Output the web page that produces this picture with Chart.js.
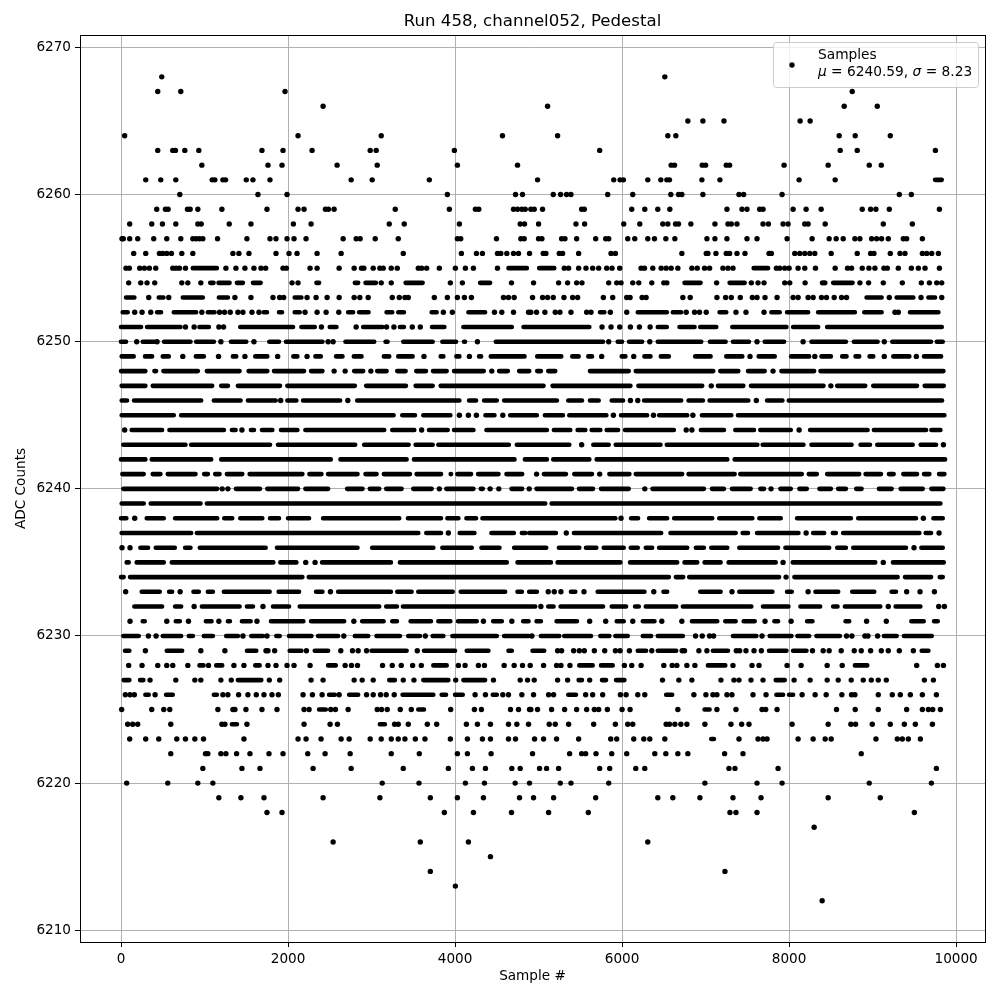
<!DOCTYPE html>
<html><head><meta charset="utf-8">
<style>html,body{margin:0;padding:0;background:#fff}canvas{display:block}</style>
<script src="https://cdn.jsdelivr.net/npm/chart.js@4"></script>
</head><body><canvas id="c" width="1000" height="1000"></canvas>
<script>
const chartTitle = "Run 458, channel052, Pedestal";
const xTitle = "Sample #";
const yTitle = "ADC Counts";
const xTicks = [0,2000,4000,6000,8000,10000];
const yTicks = [6210,6220,6230,6240,6250,6260,6270];
// each row: a number is one sample; [a,b] is a visually unbroken run of samples
const level6268=[488,6512];
const level6267=[440,716,1964,8756];
const level6266=[2420,5108,8660,9056];
const level6265=[6788,6968,7220,8132,8252];
const level6264=[44,2120,3116,4568,5228,6548,6644,8600,8792,9212];
const level6263=[440,620,652,764,932,1688,1940,2288,2984,3056,3992,5732,8612,8816,9752];
const level6262=[968,1760,1928,2588,3068,4028,4748,6588,6628,6960,7000,7248,7288,7940,8468,8960,9104];
const level6261=[296,476,656,1092,1124,1220,1252,1500,1580,1784,2756,3008,3692,4988,5900,5976,6016,6308,6464,6536,6568,6956,7172,8120,8552,[9748,9828]];
const level6260=[704,1640,1988,3908,4724,4808,5176,5264,5336,5388,5828,6128,6584,6676,6716,6968,7400,7456,7916,9320,9464];
const level6259=[428,532,564,796,828,920,1208,1748,2120,2192,2448,2484,2552,3284,3932,4244,4284,4700,4748,4800,4840,4908,4948,5048,5516,5548,6116,6272,6428,6572,7256,7436,7496,7648,7688,8048,8204,8384,8876,8976,9040,9200,9800];
const level6258=[104,368,496,656,920,960,1296,1556,2064,2276,3212,3392,4052,4780,4832,5000,5448,5552,6020,6212,6488,6548,6640,6676,6824,7112,7268,7308,7376,7688,7752,7928,7988,8188,8228,8432,9128,9476];
const level6257=[12,28,104,200,392,548,716,860,900,940,980,1156,1508,1784,1856,1988,2072,2216,2660,2816,2864,3044,3320,4028,4068,4496,4788,4828,5000,5040,5276,5316,5456,5684,5804,5840,6068,6152,6308,6388,6524,6632,7016,7112,7256,7496,7616,7976,8276,8480,8564,8648,8788,8848,8988,9048,9108,9188,9368,9408,9596];
const level6256=[152,296,460,500,548,604,728,860,1340,1412,1532,1856,2012,2108,2348,2636,3380,4076,4256,4328,4508,4548,4620,4700,4760,4892,5056,5088,5248,5288,5480,5868,5920,6716,7008,7028,7124,7248,7288,7376,7472,7760,7788,8068,8128,8188,8248,8308,8504,8816,8976,9016,9212,9328,9388,9596,9648,9708,9788];
const level6255=[60,100,224,280,340,416,620,660,700,772,[860,1148],1256,1376,1484,1592,1676,1732,1940,1980,2264,2348,2612,2792,2880,2908,3020,3100,3140,3236,3308,3560,3600,3660,3812,4004,4124,4220,4508,[4640,4860],[5008,5188],5308,5360,5480,5568,5648,5720,5816,5880,5972,6228,6268,6368,6468,6528,6588,6668,6836,6900,6988,7048,7208,7268,7328,[7576,7748],7848,7888,7948,8000,8108,8188,8316,8552,8700,8748,8876,8956,9028,9136,9176,9308,9464,9548,9628,9800];
const level6254=[92,236,312,404,728,800,956,[1068,1108],[1168,1300],[1388,1460],[1580,1672],2048,2120,[2340,2372],[2800,2840],[2928,3052],3116,3236,[3408,3612],3944,4088,[4300,4420],4676,4940,5240,5348,5456,5520,5840,5936,5988,6128,6200,6356,6500,6536,[6748,6940],7132,[7288,7468],7548,7628,7700,7948,8008,8192,8400,8428,[8528,8760],8848,8952,9128,9356,9584,9680,9768,9828];
const level6253=[[60,160],332,[452,508],572,[740,980],[1172,1280],1364,1556,1820,1900,1948,[2080,2160],2228,2336,2468,2612,2792,2860,2960,3248,3332,3400,3440,3752,3908,4028,4112,4196,4580,4640,4708,4928,5048,5108,5176,5304,5408,5468,5776,5888,6056,6096,6240,6288,6728,6816,7136,7240,7308,7416,7560,7616,7712,7856,8048,8108,8228,8288,8388,8448,8540,8628,8688,[8928,9108],9200,[9288,9488],9580,[9668,9748],9828];
const level6252=[[20,80],164,252,356,[432,480],[632,900],968,[1040,1120],1180,1240,1308,1400,1460,1568,1652,[1708,1748],[1892,1928],[2080,2140],2204,2348,2456,2608,[2720,2780],[2852,2964],[3180,3248],[3320,3388],[3720,3780],3860,3968,[4160,4360],4472,4560,4700,4880,4908,4976,5076,5200,5256,5388,5576,5628,[5736,5788],5860,6056,[6188,6536],[6608,6708],6768,6868,6928,7008,[7168,7248],7364,7484,7700,[7788,7888],[7976,8228],[8348,8788],[8900,9108],9268,9308,[9448,9788]];
const level6251=[[0,240],[312,712],772,876,[940,1052],1172,1228,[1428,2060],[2160,2320],2400,[2500,2580],2816,[2900,3132],3180,3268,[3340,3388],3488,3584,[3724,3872],[4100,4680],[4820,5608],5760,5868,5972,6100,6208,6336,[6428,6536],[6688,6868],[6936,7128],[7320,7968],[8048,8348],[8456,9828]];
const level6250=[[0,60],188,[260,400],432,[516,832],[900,1112],1196,[1316,1500],1592,[1776,1892],[1976,2412],2480,2540,[2688,3032],[3168,3192],[3380,3732],[3848,4012],[4108,4120],4268,[4488,5772],5840,[5948,6000],[6084,6240],6332,[6428,6948],[7052,7240],[7328,7520],7616,[7708,7940],8168,[8268,8680],[8776,9060],9140,[9236,9700],[9768,9840]];
const level6249=[[8,152],[288,372],[500,572],740,[896,992],1168,[1340,1380],1484,[1608,1752],1876,[2064,2112],2228,[2328,2392],[2576,2652],[2788,2880],[3148,3212],[3320,3492],3628,[3828,3860],[4016,4052],4172,[4288,4312],[4428,4832],[4984,5272],[5404,5480],[5596,5640],5756,[5996,6040],6140,[6268,6340],[6464,6560],[6876,7060],[7248,7440],7532,[7636,7828],[8024,8240],8308,[8388,8500],[8636,8688],[8796,8840],[8964,9008],9140,[9248,9440],9524,[9616,9820]];
const level6248=[[0,292],[400,420],[508,920],[1028,1420],[1528,1752],[1832,2192],[2276,2412],2552,2684,[2792,2900],2992,[3068,3180],[3308,3408],[3536,3652],[3736,3900],[3988,4344],4440,[4528,4632],[4768,4888],[4984,5028],[5116,5200],[5616,6080],[6164,7092],[7176,7392],[7508,7708],7808,[7908,8300],[8376,9848]];
const level6247=[[8,292],[380,1092],[1200,1280],[1400,1904],[1992,2800],[2936,3412],[3528,3732],[3828,5060],[5168,6100],[6196,6960],7068,[7148,7452],[7544,8412],8500,[8576,8912],[9008,9532],[9624,9852]];
const level6246=[[8,72],[156,960],[1112,1432],[1520,1852],1912,[1992,2100],[2180,2624],2716,[2828,4052],[4168,4252],[4348,4500],[4588,5220],[5356,5520],[5616,5720],[5876,6012],6100,6188,[6264,6708],[6796,6968],[7048,7512],7608,[7736,7920],[7996,9832]];
const level6245=[[8,632],[720,3264],[3368,3520],[3620,3944],4052,4160,4256,[4364,4472],4572,[4660,4980],[5076,5292],[5368,5812],5896,[5988,6300],6376,[6444,6780],6848,[6956,7308],[7388,9860]];
const level6244=[44,[128,492],[580,1232],[1328,1372],1448,[1556,1592],[1688,1812],[1916,2112],[2208,3152],[3248,3512],3600,[3688,3912],[3988,4220],[4376,5100],[5184,5380],[5468,5560],[5636,5740],[5816,5952],[6036,6620],6768,6836,[6944,7220],[7356,7580],[7656,8020],8120,[8252,8940],[9016,9640],[9704,9812]];
const level6243=[[28,772],[840,1784],[1880,2804],[2912,3444],[3528,3732],[3800,4644],[4740,5368],5516,[5656,5840],[5924,6460],[6536,7620],[7684,8172],[8268,8748],[8856,8968],[9056,9480],[9576,9760],9848];
const level6242=[[0,292],[368,1080],[1200,2512],[2628,3420],[3508,4712],[4836,5100],[5176,5608],[5696,7260],[7348,9868]];
const level6241=[[16,272],[380,472],[560,892],[996,1040],[1128,1180],[1268,1452],[1540,2172],[2256,2400],[2480,2832],[2928,3060],[3148,3460],[3540,3832],[3948,3952],[4028,4192],[4276,4520],[4616,4804],4976,[5064,5328],[5428,5640],5732,[5848,6088],[6164,6720],[6796,7348],[7416,8152],[8236,8332],[8456,8840],[8916,9100],[9196,9252],[9368,9532],[9616,9680],[9796,9860]];
const level6240=[[28,1152],1212,1280,[1376,1664],[1752,2120],[2208,2480],[2708,2892],[2980,3092],[3176,3360],[3500,3720],3812,[3896,4220],[4308,4332],4420,4524,[4676,4804],4888,[4976,5400],[5484,5652],[5748,6080],6272,[6364,6980],[7076,7220],[7316,7540],[7656,7700],7784,[7896,8020],[8124,8212],[8364,8500],[8588,8680],[8804,8868],[9076,9228],[9336,9600],[9704,9848]];
const level6239=[[8,272],[356,952],[1028,5080],[5156,9812]];
const level6238=[[0,64],164,[308,512],[648,1152],[1236,1332],[1428,1692],[1784,1892],[2000,2252],[2420,3332],[3436,3832],[3908,4040],[4136,4252],[4328,5920],5988,[6108,6192],[6324,6540],[6624,7080],[7164,7560],[7644,7900],[8096,8740],[8828,9520],9608,[9728,9840]];
const level6237=[[8,840],[908,3560],[3656,3832],3920,[4056,4232],[4436,4704],[4800,4840],[4888,5208],5332,[5424,6468],[6580,7360],[7444,7508],[7616,8112],8204,[8288,8420],[8524,8560],[8648,9560],[9636,9700],9796];
const level6236=[12,108,[232,324],[416,644],[768,832],[944,1732],[1868,2832],[3008,3740],[3848,4200],[4316,4532],[4708,5092],[5244,5488],[5568,5692],[5780,6020],[6104,6188],[6284,6360],[6444,6780],[6884,6980],[7068,7260],[7404,7868],[7956,8480],[8576,8680],[8768,9400],9496,[9584,9840]];
const level6235=[[68,92],[188,512],[608,1824],[1908,2100],2212,2324,[2408,3232],[3340,4620],[4748,5148],[5228,5980],[6096,6660],[6748,6900],[6988,7180],[7276,7840],7928,[8044,9032],9128,[9244,9852]];
const level6234=[[0,32],[108,2172],[2248,6560],[6644,6732],[6804,7880],7964,[8064,9300],[9388,9700],[9804,9840]];
const level6233=[56,[248,464],[576,612],708,[868,932],[1040,1100],[1232,1780],[1888,2132],[2336,2412],2508,[2600,3232],[3308,3480],[3560,3972],[4068,4600],[4748,4800],[4888,4980],5116,5188,5268,[5388,5440],5544,[5708,6268],6380,[6496,6540],[6936,7180],7316,[7404,7800],[7976,8032],8228,[8316,8588],[8756,9020],[9228,9280],9408,9568,9740];
const level6232=[[160,492],[648,720],876,[968,1420],[1508,1580],1700,[1820,2012],[2140,3092],[3176,3304],[3376,4960],5028,[5116,5180],[5264,5772],[5876,6048],[6156,6200],[6284,6648],[6728,7548],[7688,7992],[8136,8372],[8528,8580],[8668,9092],9188,[9276,9572],9792,9860];
const level6231=[108,[260,284],548,[656,704],808,[1016,1084],1172,[1280,1304],[1448,1552],1628,[1796,2184],[2276,2672],2788,[2888,3144],[3248,3304],[3468,3712],[3800,3944],[4036,4260],4340,[4456,4560],4680,[4816,4880],[4976,5028],[5216,5460],5612,5804,[5936,6020],6128,[6248,6388],6476,6716,[6836,7140],[7236,7360],[7456,7588],7712,[7824,7868],8024,[8216,8280],[8676,8720],8928,9164,[9464,9612],[9736,9780]];
const level6230=[[28,212],328,420,[500,720],[812,860],[992,1100],[1260,1400],1460,[1560,1700],1748,[1860,1900],[2012,2280],[2360,2600],2668,[2800,2960],[3060,3340],[3440,3580],3644,[3732,3860],[3968,4500],[4588,4880],4920,[5028,5248],[5308,5628],[5740,5848],[5920,6068],[6248,6348],[6428,6728],6880,6960,7048,7096,[7328,7608],7676,[7768,8028],[8100,8240],[8328,8608],8688,8752,8908,8944,9060,[9136,9288],[9376,9708]];
const level6229=[[48,100],292,[548,732],956,1244,[1508,1620],1736,1760,1840,[2020,2160],2220,[2320,2480],2632,2772,2840,2940,[3000,3420],3548,[3628,4000],[4140,4400],[4640,4680],[4928,5068],5228,5276,5420,5488,5548,5668,5792,5920,5976,6088,[6188,6288],6356,[6428,6648],6720,6748,6920,7016,[7088,7268],7368,7408,7484,7580,7668,[7760,7968],[8048,8208],8280,8408,8480,8624,8780,8864,8976,9104,9188,9320,9488,[9588,9668]];
const level6228=[92,252,440,548,620,800,[940,988],1048,[1140,1212],1352,1472,[1608,1660],1760,1856,1988,2072,2264,[2480,2572],2684,2760,2832,3132,3248,3356,3492,3596,[3740,3900],4040,4120,4280,4352,4588,4708,4808,4900,5060,5216,5268,5376,[5488,5648],[5748,5888],6028,6116,6228,6500,6600,6656,6776,6872,[7028,7236],7328,7556,7640,7976,8144,8456,8636,[8788,8936],9528,9776,9848];
const level6227=[[32,100],[228,268],348,656,884,956,1196,1320,[1400,1680],1776,1900,2276,2420,2792,2888,3020,[3212,3280],3380,3508,[3620,3920],4008,[4100,4360],4460,4780,4868,4948,5228,5348,[5480,5520],5612,[5760,5808],[5928,6028],6484,6680,6836,7184,7340,7400,7544,7688,[7840,7948],8060,8252,8456,8588,8744,8888,8984,9068,9164,9620,9728];
const level6226=[52,108,160,[292,332],408,[540,620],[1112,1148],1220,1280,1408,1520,1620,1712,1808,1884,2180,2292,2408,[2492,2560],2612,[2732,2840],2940,3020,3108,3176,3272,[3372,3740],[3840,3892],[4000,4092],4240,4364,[4452,4500],4572,4640,4800,4940,5120,5180,[5356,5448],5564,5648,5768,5980,6048,6188,6272,[6528,6600],6860,7004,7088,7136,7256,7316,7568,7724,[7848,7928],[8000,8048],8156,8312,8444,8632,8748,8788,9068,9236,9332,9452,9596,9764];
const level6225=[8,368,512,584,1160,1340,1364,1496,1688,1868,2192,2252,[2372,2452],2512,2568,2720,3068,3120,3188,3344,3476,[3560,3628],3948,4232,4316,4664,4760,4892,4908,4988,5156,5312,5456,5576,5668,5720,5824,6000,6096,6668,[6988,7048],7136,7364,7676,7720,7856,8568,8792,9068,9408,9596,9668,9720,9812];
const level6224=[80,140,200,596,1208,1244,[1328,1388],1508,2192,2504,2592,[3100,3160],3276,3320,3440,3668,3780,4136,4268,4424,4640,4740,4880,5128,5200,5360,5660,5920,6068,6128,6528,6568,6632,6704,6776,6992,7304,7432,7520,8036,8468,8740,8796,8996,9212,9380,9512,9716];
const level6223=[104,296,452,668,772,884,988,1472,2120,2216,2396,2636,2732,2984,3116,3236,3320,3400,3524,3640,3944,4148,4328,4424,4640,4724,4952,5060,5216,5480,5864,5936,6140,6260,6332,6512,[7068,7100],7400,7628,7688,7736,8108,8288,8432,8504,9040,9296,9356,9428,9572];
const level6222=[596,1012,1040,1196,1256,1384,1544,1772,1940,2236,2444,2744,3236,3572,4028,4148,4432,4928,5372,5516,5564,5688,5876,6056,6392,6524,6668,6788,7228,7448,8864];
const level6221=[980,1448,1664,2300,2756,3380,3920,4208,4364,4680,4780,5012,5096,5240,5732,5852,6164,6272,7280,7352,7868,9764];
const level6220=[68,560,920,1100,3128,3568,4124,4352,4720,4892,5260,5388,5840,6992,7616,7916,8960,9704];
const level6219=[1172,1436,1712,2420,3100,3704,4028,4340,4772,4940,5180,5684,6428,6608,6932,7328,7664,8468,9092];
const level6218=[1748,1928,3872,4220,4676,5120,5596,7292,7364,7616,9500];
const level6217=[8300];
const level6216=[2540,3584,4160,6308];
const level6215=[4424];
const level6214=[3704,7232];
const level6213=[4004];
const level6212=[8396];
const rows = {6268:level6268,6267:level6267,6266:level6266,6265:level6265,6264:level6264,6263:level6263,6262:level6262,6261:level6261,6260:level6260,6259:level6259,6258:level6258,6257:level6257,6256:level6256,6255:level6255,6254:level6254,6253:level6253,6252:level6252,6251:level6251,6250:level6250,6249:level6249,6248:level6248,6247:level6247,6246:level6246,6245:level6245,6244:level6244,6243:level6243,6242:level6242,6241:level6241,6240:level6240,6239:level6239,6238:level6238,6237:level6237,6236:level6236,6235:level6235,6234:level6234,6233:level6233,6232:level6232,6231:level6231,6230:level6230,6229:level6229,6228:level6228,6227:level6227,6226:level6226,6225:level6225,6224:level6224,6223:level6223,6222:level6222,6221:level6221,6220:level6220,6219:level6219,6218:level6218,6217:level6217,6216:level6216,6215:level6215,6214:level6214,6213:level6213,6212:level6212};

const dots = [], runs = [];
for (const y of Object.keys(rows)) {
  for (const v of rows[y]) {
    if (Array.isArray(v)) {
      runs.push({x:v[0],y:+y},{x:v[1],y:+y},{x:null,y:null});
    } else dots.push({x:v,y:+y});
  }
}
const FONT = "'DejaVu Sans'";
const plainTick = v => String(v);
const frameAndLegend = {
  id:'frameAndLegend',
  afterDraw(chart){
    const c = chart.ctx, a = chart.chartArea;
    c.save();
    c.strokeStyle='#000'; c.lineWidth=1;
    c.strokeRect(Math.round(a.left)+.5,Math.round(a.top)+.5,Math.round(a.right-a.left),Math.round(a.bottom-a.top));
    c.beginPath(); c.roundRect(773.5,42.5,205,45,3);
    c.fillStyle='rgba(255,255,255,0.8)'; c.fill();
    c.strokeStyle='#cccccc'; c.stroke();
    c.fillStyle='#000';
    c.beginPath(); c.arc(792,65,2.7,0,Math.PI*2); c.fill();
    c.textBaseline='alphabetic'; c.textAlign='left';
    const normal="13.75px "+FONT, ital="italic 13.75px "+FONT;
    c.font=normal; c.fillText("Samples",818,59);
    let x=818;
    for (const [t,f] of [["μ",ital],[" = 6240.59, ",normal],["σ",ital],[" = 8.23",normal]]) {
      c.font=f; c.fillText(t,x,76); x+=c.measureText(t).width;
    }
    c.restore();
  }
};
new Chart(document.getElementById('c'),{
  type:'scatter',
  data:{datasets:[
    {label:'Samples',data:dots,pointRadius:2.7,pointHoverRadius:2.7,pointBorderWidth:0,backgroundColor:'#000',borderColor:'#000',showLine:false},
    {label:'Sample runs',data:runs,pointRadius:0,showLine:true,borderWidth:4.6,borderColor:'#000',borderCapStyle:'round',spanGaps:false,tension:0}
  ]},
  options:{
    responsive:false,animation:false,devicePixelRatio:1,
    layout:{padding:{left:0,right:15,top:0,bottom:0}},
    plugins:{
      legend:{display:false},tooltip:{enabled:false},
      title:{display:true,fullSize:false,text:chartTitle,color:'#000',font:{family:FONT,size:16.6,weight:'normal',lineHeight:1.2},padding:{top:12,bottom:3}}
    },
    scales:{
      x:{type:'linear',min:-491,max:10346,
        afterFit(s){s.height=58;},
        afterBuildTicks(s){s.ticks=xTicks.map(v=>({value:v}));},
        title:{display:true,text:xTitle,color:'#000',font:{family:FONT,size:13.6},padding:{top:6,bottom:15}},
        grid:{color:'#b0b0b0',lineWidth:1,tickColor:'#000',tickLength:5,drawTicks:true},
        border:{display:false},
        ticks:{color:'#000',font:{family:FONT,size:13.6},padding:4,maxRotation:0,includeBounds:false,callback:plainTick}},
      y:{type:'linear',min:6209.2,max:6270.85,
        afterFit(s){s.width=80;},
        afterBuildTicks(s){s.ticks=yTicks.map(v=>({value:v}));},
        title:{display:true,text:yTitle,color:'#000',font:{family:FONT,size:13.6},padding:{top:13,bottom:4}},
        grid:{color:'#b0b0b0',lineWidth:1,tickColor:'#000',tickLength:5,drawTicks:true},
        border:{display:false},
        ticks:{color:'#000',font:{family:FONT,size:13.6},padding:4,includeBounds:false,callback:plainTick}}
    }
  },
  plugins:[frameAndLegend]
});
</script></body></html>
